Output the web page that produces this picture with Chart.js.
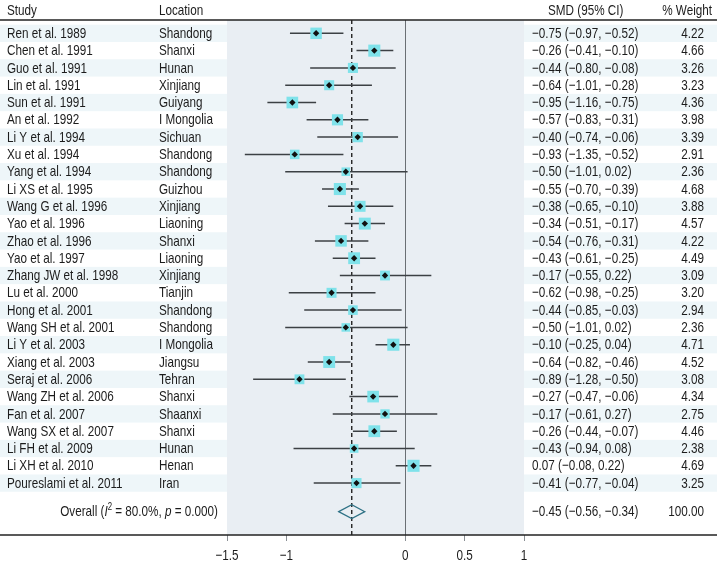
<!DOCTYPE html>
<html>
<head>
<meta charset="utf-8">
<script src="https://cdn.jsdelivr.net/npm/chart.js@4.4.1/dist/chart.umd.min.js"></script>
<style>
  html, body { margin: 0; padding: 0; background: #fff; }
  canvas { display: block; }
</style>
</head>
<body>
<canvas id="chart" width="717" height="563"></canvas>
<script>
const STUDIES = ['Ren et al. 1989', 'Chen et al. 1991', 'Guo et al. 1991', 'Lin et al. 1991', 'Sun et al. 1991',
  'An et al. 1992', 'Li Y et al. 1994', 'Xu et al. 1994', 'Yang et al. 1994', 'Li XS et al. 1995',
  'Wang G et al. 1996', 'Yao et al. 1996', 'Zhao et al. 1996', 'Yao et al. 1997', 'Zhang JW et al. 1998',
  'Lu et al. 2000', 'Hong et al. 2001', 'Wang SH et al. 2001', 'Li Y et al. 2003', 'Xiang et al. 2003',
  'Seraj et al. 2006', 'Wang ZH et al. 2006', 'Fan et al. 2007', 'Wang SX et al. 2007', 'Li FH et al. 2009',
  'Li XH et al. 2010', 'Poureslami et al. 2011'];
const LOCATIONS = ['Shandong', 'Shanxi', 'Hunan', 'Xinjiang', 'Guiyang', 'I Mongolia', 'Sichuan', 'Shandong',
  'Shandong', 'Guizhou', 'Xinjiang', 'Liaoning', 'Shanxi', 'Liaoning', 'Xinjiang', 'Tianjin', 'Shandong',
  'Shandong', 'I Mongolia', 'Jiangsu', 'Tehran', 'Shanxi', 'Shaanxi', 'Shanxi', 'Hunan', 'Henan', 'Iran'];
const SMD = [-0.75, -0.26, -0.44, -0.64, -0.95, -0.57, -0.40, -0.93, -0.50, -0.55, -0.38, -0.34, -0.54, -0.43,
  -0.17, -0.62, -0.44, -0.50, -0.10, -0.64, -0.89, -0.27, -0.17, -0.26, -0.43, 0.07, -0.41];
const CI_LOW = [-0.97, -0.41, -0.80, -1.01, -1.16, -0.83, -0.74, -1.35, -1.01, -0.70, -0.65, -0.51, -0.76, -0.61,
  -0.55, -0.98, -0.85, -1.01, -0.25, -0.82, -1.28, -0.47, -0.61, -0.44, -0.94, -0.08, -0.77];
const CI_HIGH = [-0.52, -0.10, -0.08, -0.28, -0.75, -0.31, -0.06, -0.52, 0.02, -0.39, -0.10, -0.17, -0.31, -0.25,
  0.22, -0.25, -0.03, 0.02, 0.04, -0.46, -0.50, -0.06, 0.27, -0.07, 0.08, 0.22, -0.04];
const WEIGHTS = [4.22, 4.66, 3.26, 3.23, 4.36, 3.98, 3.39, 2.91, 2.36, 4.68, 3.88, 4.57, 4.22, 4.49, 3.09, 3.20,
  2.94, 2.36, 4.71, 4.52, 3.08, 4.34, 2.75, 4.46, 2.38, 4.69, 3.25];
const OVERALL = [-0.45, -0.56, -0.34]; // smd, low, high
const OVERALL_WEIGHT = 100.00;
const X_TICKS = [-1.5, -1, 0, 0.5, 1];

const OVERALL_ROW = 27.65;
const FONT = "'Liberation Sans', Arial, sans-serif";
const FONT_SIZE = 15;
const SX = 0.78; // squeeze text to look like a condensed face
const TEXT_COLOR = '#1c1c1c';

function fmt(v){
    return (v < 0 ? '\u2212' : '') + Math.abs(v).toFixed(2);
}
function ciText(m, l, h){
    return fmt(m) + ' (' + fmt(l) + ', ' + fmt(h) + ')';
}
function tickText(v){
    return (v < 0 ? '\u2212' : '') + String(Math.abs(v));
}

function text(ctx, str, x, y, align){
    ctx.save();
    ctx.translate(x, y);
    ctx.scale(SX, 1);
    ctx.textAlign = align || 'left';
    ctx.fillText(str, 0, 0);
    ctx.restore();
}

const forestPlugin = {
  id: 'forest',
  beforeDraw(chart){
    const ctx = chart.ctx;
    const area = chart.chartArea;
    const y = chart.scales.y;
    const half = (y.getPixelForValue(1) - y.getPixelForValue(0)) / 2;
    ctx.save();
    ctx.fillStyle = '#fff';
    ctx.fillRect(0, 0, chart.width, chart.height);
    ctx.fillStyle = '#eef6f9';
    STUDIES.forEach((s, i) => {
      if (i % 2 === 0) {
        const py = y.getPixelForValue(i);
        ctx.fillRect(0, py - half, chart.width, half * 2);
      }
    });
    ctx.fillStyle = '#e9eef3';
    ctx.fillRect(area.left, area.top, area.right - area.left, area.bottom - area.top);
    ctx.restore();
  },
  beforeDatasetsDraw(chart){
    const ctx = chart.ctx;
    const area = chart.chartArea;
    const x = chart.scales.x;
    const y = chart.scales.y;
    ctx.save();

    // null line
    ctx.strokeStyle = '#6a6f74';
    ctx.lineWidth = 1;
    const x0 = Math.round(x.getPixelForValue(0)) + 0.5;
    ctx.beginPath(); ctx.moveTo(x0, area.top); ctx.lineTo(x0, area.bottom); ctx.stroke();

    // overall dashed line
    ctx.strokeStyle = '#222';
    ctx.lineWidth = 1.4;
    ctx.setLineDash([4, 3]);
    const xo = x.getPixelForValue(OVERALL[0]);
    ctx.beginPath(); ctx.moveTo(xo, area.top); ctx.lineTo(xo, area.bottom); ctx.stroke();
    ctx.setLineDash([]);

    // confidence intervals
    ctx.strokeStyle = '#3c4044';
    ctx.lineWidth = 1.5;
    STUDIES.forEach((s, i) => {
      const py = y.getPixelForValue(i);
      ctx.beginPath();
      ctx.moveTo(x.getPixelForValue(CI_LOW[i]), py);
      ctx.lineTo(x.getPixelForValue(CI_HIGH[i]), py);
      ctx.stroke();
    });

    // overall diamond
    const pyo = y.getPixelForValue(OVERALL_ROW);
    ctx.strokeStyle = '#2f7286';
    ctx.lineWidth = 1.2;
    ctx.beginPath();
    ctx.moveTo(x.getPixelForValue(OVERALL[1]), pyo);
    ctx.lineTo(xo, pyo - 7);
    ctx.lineTo(x.getPixelForValue(OVERALL[2]), pyo);
    ctx.lineTo(xo, pyo + 7);
    ctx.closePath();
    ctx.stroke();

    // header and bottom rules
    ctx.strokeStyle = '#222';
    ctx.lineWidth = 1.3;
    ctx.beginPath(); ctx.moveTo(0, area.top); ctx.lineTo(chart.width, area.top); ctx.stroke();
    ctx.beginPath(); ctx.moveTo(0, area.bottom); ctx.lineTo(chart.width, area.bottom); ctx.stroke();

    // text columns
    const normal = FONT_SIZE + 'px ' + FONT;
    ctx.fillStyle = TEXT_COLOR;
    ctx.font = normal;
    ctx.textBaseline = 'middle';
    const hy = area.top / 2 + 0.5;
    text(ctx, 'Study', 7, hy);
    text(ctx, 'Location', 159, hy);
    text(ctx, 'SMD (95% CI)', 548, hy);
    text(ctx, '% Weight', 712, hy, 'right');

    STUDIES.forEach((s, i) => {
      const py = y.getPixelForValue(i) + 0.5;
      text(ctx, s, 7, py);
      text(ctx, LOCATIONS[i], 159, py);
      text(ctx, ciText(SMD[i], CI_LOW[i], CI_HIGH[i]), 532, py);
      text(ctx, WEIGHTS[i].toFixed(2), 704, py, 'right');
    });

    const oy = pyo + 0.5;
    text(ctx, ciText(OVERALL[0], OVERALL[1], OVERALL[2]), 532, oy);
    text(ctx, OVERALL_WEIGHT.toFixed(2), 704, oy, 'right');

    // Overall (I² = 80.0%, p = 0.000)
    const italic = 'italic ' + FONT_SIZE + 'px ' + FONT, small = '10px ' + FONT;
    const parts = [
      ['Overall (', normal, 0], ['I', italic, 0], ['2', small, -5],
      [' = 80.0%, ', normal, 0], ['p', italic, 0], [' = 0.000)', normal, 0]
    ];
    let total = 0;
    parts.forEach(p => { ctx.font = p[1]; total += ctx.measureText(p[0]).width * SX; });
    let cx = 218 - total;
    parts.forEach(p => {
      ctx.font = p[1];
      text(ctx, p[0], cx, oy + p[2]);
      cx += ctx.measureText(p[0]).width * SX;
    });

    // x tick labels, placed on the scale's own tick positions
    ctx.font = normal;
    x.ticks.forEach(t => {
      text(ctx, tickText(t.value), x.getPixelForValue(t.value), area.bottom + 21, 'center');
    });
    ctx.restore();
  }
};

const points = SMD.map((v, i) => ({ x: v, y: i }));

new Chart(document.getElementById('chart'), {
  type: 'scatter',
  data: {
    datasets: [
      {
        data: points,
        pointStyle: 'rect',
        pointRadius: ctx => 3.95 * Math.sqrt(WEIGHTS[ctx.dataIndex]),
        backgroundColor: '#7fe2ea',
        borderWidth: 0,
        order: 2
      },
      {
        data: points,
        pointStyle: 'rectRot',
        pointRadius: 3.2,
        backgroundColor: '#111',
        borderWidth: 0,
        order: 1
      }
    ]
  },
  options: {
    responsive: false,
    animation: false,
    layout: { padding: { left: 227, right: 193, top: 20, bottom: 0 } },
    plugins: { legend: { display: false }, tooltip: { enabled: false } },
    scales: {
      x: {
        type: 'linear',
        min: -1.5,
        max: 1,
        afterBuildTicks: scale => { scale.ticks = X_TICKS.map(v => ({ value: v })); },
        afterFit: scale => { scale.height = 28; },
        ticks: {
          autoSkip: false,
          maxRotation: 0,
          padding: 0,
          color: 'rgba(0,0,0,0)',
          font: { size: 14, family: FONT },
          callback: v => tickText(v)
        },
        grid: { drawOnChartArea: false, drawTicks: true, tickLength: 6, color: '#8a8f94' },
        border: { display: false }
      },
      y: {
        type: 'linear',
        reverse: true,
        min: -0.77,
        max: 29.0,
        display: false
      }
    }
  },
  plugins: [forestPlugin]
});
</script>
</body>
</html>
